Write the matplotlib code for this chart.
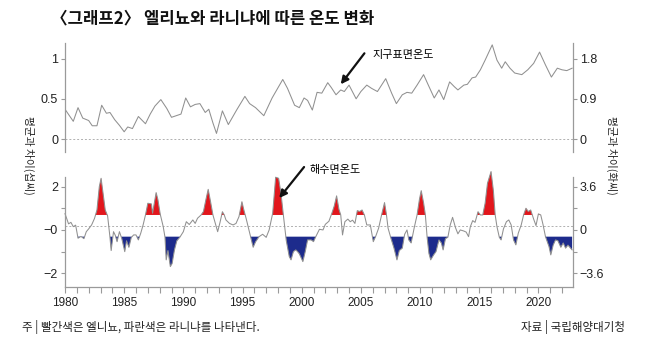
import matplotlib
matplotlib.use("Agg")
import matplotlib.pyplot as plt
import numpy as np

KR = ["Noto Sans CJK KR", "DejaVu Sans"]
NUM = ["Liberation Sans", "DejaVu Sans"]
NARROW = ["Liberation Sans Narrow", "Liberation Sans", "DejaVu Sans"]

# global surface temperature anomaly (deg C)
land_years = [1980.0, 1980.7, 1981.1, 1981.5, 1982.0, 1982.3, 1982.7, 1983.1, 1983.5, 1983.8,
              1984.2, 1984.6, 1985.0, 1985.3, 1985.7, 1986.2, 1986.8, 1987.2, 1987.6, 1988.1,
              1988.6, 1989.0, 1989.4, 1989.8, 1990.2, 1990.6, 1991.0, 1991.4, 1991.85, 1992.15,
              1992.5, 1992.8, 1993.3, 1993.8, 1994.5, 1995.2, 1995.6, 1996.1, 1996.8, 1997.5,
              1998.4, 1998.8, 1999.4, 1999.8, 2000.2, 2000.5, 2000.9, 2001.3, 2001.7, 2002.2,
              2002.5, 2002.9, 2003.3, 2003.6, 2004.0, 2004.6, 2005.0, 2005.5, 2005.9, 2006.4,
              2007.1, 2007.6, 2008.0, 2008.5, 2008.9, 2009.3, 2009.75, 2010.3, 2010.7, 2011.2,
              2011.6, 2012.0, 2012.5, 2012.9, 2013.2, 2013.7, 2014.0, 2014.4, 2014.7, 2015.1,
              2015.5, 2016.1, 2016.5, 2016.9, 2017.2, 2017.6, 2018.0, 2018.6, 2019.1, 2019.6,
              2020.1, 2020.6, 2021.1, 2021.6, 2022.0, 2022.4, 2022.85]
land_temp = [0.37, 0.22, 0.39, 0.26, 0.23, 0.165, 0.165, 0.42, 0.32, 0.33,
             0.24, 0.17, 0.09, 0.15, 0.13, 0.28, 0.19, 0.31, 0.41, 0.49,
             0.38, 0.27, 0.29, 0.31, 0.51, 0.40, 0.43, 0.44, 0.33, 0.37,
             0.20, 0.07, 0.35, 0.18, 0.36, 0.53, 0.44, 0.39, 0.29, 0.51,
             0.74, 0.63, 0.42, 0.39, 0.51, 0.48, 0.36, 0.58, 0.57, 0.70,
             0.64, 0.55, 0.61, 0.59, 0.67, 0.50, 0.59, 0.67, 0.63, 0.59,
             0.75, 0.57, 0.44, 0.55, 0.58, 0.57, 0.67, 0.80, 0.67, 0.51,
             0.61, 0.49, 0.71, 0.65, 0.61, 0.67, 0.68, 0.76, 0.77, 0.86,
             0.98, 1.17, 0.98, 0.88, 0.96, 0.88, 0.82, 0.80, 0.86, 0.94,
             1.08, 0.92, 0.77, 0.88, 0.86, 0.85, 0.88]

# sea surface temperature anomaly (deg C)
sea_years = [1980.0, 1980.3, 1980.5, 1980.7, 1980.9, 1981.1, 1981.35, 1981.6, 1981.8, 1982.0,
             1982.25, 1982.5, 1982.7, 1982.9, 1983.05, 1983.2, 1983.4, 1983.6, 1983.8, 1983.9,
             1984.1, 1984.25, 1984.4, 1984.6, 1984.8, 1985.05, 1985.2, 1985.4, 1985.6, 1985.8,
             1986.0, 1986.2, 1986.4, 1986.6, 1986.8, 1987.0, 1987.3, 1987.4, 1987.7, 1987.85,
             1988.05, 1988.3, 1988.45, 1988.55, 1988.7, 1988.9, 1989.05, 1989.25, 1989.45, 1989.7,
             1990.0, 1990.25, 1990.5, 1990.8, 1991.0, 1991.2, 1991.5, 1991.7, 1991.9, 1992.1,
             1992.3, 1992.5, 1992.7, 1992.9, 1993.1, 1993.3, 1993.45, 1993.6, 1993.9, 1994.2,
             1994.45, 1994.7, 1994.95, 1995.1, 1995.3, 1995.5, 1995.7, 1995.9, 1996.1, 1996.4,
             1996.7, 1997.0, 1997.25, 1997.55, 1997.8, 1998.05, 1998.25, 1998.45, 1998.7, 1998.95,
             1999.1, 1999.3, 1999.5, 1999.65, 1999.8, 2000.1, 2000.3, 2000.5, 2000.8, 2001.0,
             2001.2, 2001.5, 2001.8, 2002.0, 2002.3, 2002.55, 2002.75, 2002.95, 2003.15, 2003.3,
             2003.45, 2003.65, 2003.9, 2004.1, 2004.3, 2004.5, 2004.7, 2004.9, 2005.1, 2005.3,
             2005.5, 2005.8, 2006.05, 2006.25, 2006.5, 2006.75, 2007.0, 2007.15, 2007.3, 2007.55,
             2007.8, 2008.05, 2008.25, 2008.5, 2008.7, 2008.9, 2009.05, 2009.25, 2009.5, 2009.75,
             2009.95, 2010.1, 2010.3, 2010.45, 2010.6, 2010.75, 2010.9, 2011.15, 2011.35, 2011.6,
             2011.8, 2011.95, 2012.15, 2012.35, 2012.55, 2012.75, 2013.0, 2013.2, 2013.4, 2013.7,
             2013.9, 2014.1, 2014.25, 2014.45, 2014.65, 2014.9, 2015.1, 2015.3, 2015.5, 2015.7,
             2016.0, 2016.2, 2016.35, 2016.5, 2016.7, 2016.85, 2017.05, 2017.3, 2017.5, 2017.7,
             2017.9, 2018.1, 2018.3, 2018.55, 2018.75, 2018.95, 2019.15, 2019.35, 2019.6, 2019.8,
             2020.0, 2020.2, 2020.4, 2020.6, 2020.9, 2021.05, 2021.25, 2021.45, 2021.65, 2021.9,
             2022.1, 2022.3, 2022.5, 2022.85]
sea_temp = [0.75, 0.28, 0.35, 0.15, 0.22, -0.38, -0.30, -0.40, -0.08, 0.05,
            0.23, 0.54, 0.92, 2.0, 2.38, 1.77, 0.92, 0.65, -0.34, -0.95,
            -0.08, -0.25, -0.54, -0.08, -0.40, -1.0, -0.5, -0.80, -0.35, -0.23,
            -0.23, -0.46, -0.15, 0.23, 0.69, 1.23, 1.20, 0.77, 1.72, 1.4,
            0.72, 0.15, -0.34, -1.38, -0.95, -1.69, -1.55, -0.92, -0.5, -0.34,
            -0.08, 0.38, 0.25, 0.46, 0.3, 0.54, 0.69, 0.85, 1.38, 1.87,
            1.3, 0.69, 0.3, -0.08, 0.35, 0.84, 0.7, 0.46, 0.3, 0.23,
            0.3, 0.61, 1.30, 0.95, 0.54, 0.1, -0.34, -0.80, -0.55, -0.31,
            -0.2, -0.34, 0.0, 0.77, 2.43, 2.38, 1.69, 0.69, -0.5, -1.23,
            -1.38, -1.0, -0.92, -1.0, -1.1, -1.46, -1.0, -0.46, -0.46, -0.54,
            -0.3, 0.03, 0.0, 0.26, 0.4, 0.77, 1.1, 1.57, 0.95, 0.69,
            -0.23, 0.38, 0.5, 0.38, 0.45, 0.3, 0.89, 0.85, 0.92, 0.69,
            0.23, 0.23, -0.54, -0.3, 0.08, 0.69, 1.26, 0.75, 0.08, -0.4,
            -0.84, -1.38, -0.95, -0.84, -0.2, 0.0, -0.46, -0.6, 0.08, 0.69,
            1.41, 1.81, 1.25, 0.69, -0.34, -1.08, -1.38, -1.15, -1.0, -0.46,
            -0.6, -0.92, -0.4, -0.34, 0.23, 0.58, 0.1, -0.18, 0.0, -0.05,
            -0.1, -0.31, 0.15, 0.43, 0.35, 0.84, 0.69, 0.69, 1.23, 2.15,
            2.69, 1.8, 0.69, 0.15, -0.34, -0.46, 0.05, 0.38, 0.46, 0.23,
            -0.46, -0.69, -0.15, 0.23, 0.69, 1.0, 0.85, 0.92, 0.5, 0.2,
            0.74, 0.69, 0.23, -0.31, -0.77, -1.15, -0.7, -0.46, -0.5, -0.80,
            -0.6, -0.84, -0.7, -0.92]

sea_ref = 0.19
nino_line = sea_ref + 0.5
nina_line = sea_ref - 0.5

year_ticks = list(range(1980, 2023))
year_labels = [str(y) if y % 5 == 0 else "" for y in year_ticks]

GRAY = "#909090"
AXC = "#9a9a9a"
RED = "#e2161c"
BLUE = "#1d2b8c"

fig = plt.figure(figsize=(6.5, 3.43), dpi=100)
x0, w = 65 / 650, (572.7 - 65) / 650
ax_top = fig.add_axes([x0, 1 - 152 / 343, w, 109 / 343])
ax_bot = fig.add_axes([x0, 1 - 287 / 343, w, 110 / 343])

x_lim = (1980, 2022.9)


def style_axes(ax, ylim, ticks, labels, bottom_axis):
    ax.set_xlim(*x_lim)
    ax.set_ylim(*ylim)
    ax.patch.set_alpha(0)
    for side in ["top", "right"]:
        ax.spines[side].set_visible(False)
    ax.spines["left"].set_color(AXC)
    ax.spines["left"].set_linewidth(0.9)
    ax.set_yticks(ticks)
    ax.set_yticklabels(labels, family=NUM, fontsize=9)
    ax.tick_params(axis="y", direction="out", length=3, width=0.8, color=AXC, pad=2, labelcolor="#222")
    if bottom_axis:
        ax.spines["bottom"].set_color(AXC)
        ax.spines["bottom"].set_linewidth(0.9)
        ax.set_xticks(year_ticks)
        ax.set_xticklabels(year_labels, family=NARROW, fontsize=8.5, color="#222")
        ax.tick_params(axis="x", direction="out", length=4, width=0.8, color=AXC, pad=3)
    else:
        ax.spines["bottom"].set_visible(False)
        ax.set_xticks([])


def style_right(ax, ylim, ticks, labels):
    tw = ax.twinx()
    tw.set_ylim(ylim[0] * 1.8, ylim[1] * 1.8)
    for side in ["top", "left", "bottom"]:
        tw.spines[side].set_visible(False)
    tw.spines["right"].set_color(AXC)
    tw.spines["right"].set_linewidth(0.9)
    tw.set_yticks(ticks)
    tw.set_yticklabels(labels, family=NARROW, fontsize=9)
    tw.tick_params(axis="y", direction="out", length=3, width=0.8, color=AXC, pad=2, labelcolor="#222")
    return tw


# upper panel: global surface temperature
top_lim = (-0.161, 1.193)
style_axes(ax_top, top_lim, [0, 0.5, 1], ["0", "0.5", "1"], False)
style_right(ax_top, top_lim, [0, 0.9, 1.8], ["0", "0.9", "1.8"])
ax_top.axhline(0, color="#b0b0b0", lw=0.7, ls=(0, (2, 2)))
ax_top.plot(land_years, land_temp, color=GRAY, lw=0.75)

# lower panel: sea surface temperature with El Nino / La Nina shading
bot_lim = (-2.63, 2.44)
style_axes(ax_bot, bot_lim, [2, 1, 0, -1, -2], ["2", "", "\u22120", "", "\u22122"], True)
style_right(ax_bot, bot_lim, [3.6, 1.8, 0, -1.8, -3.6], ["3.6", "", "0", "", "\u22123.6"])
ax_bot.axhline(sea_ref, color="#b0b0b0", lw=0.7, ls=(0, (2, 2)))
sy = np.array(sea_years)
st = np.array(sea_temp)
ax_bot.fill_between(sy, st, nino_line, where=st > nino_line, interpolate=True,
                    color=RED, lw=0, clip_on=False)
ax_bot.fill_between(sy, st, nina_line, where=st < nina_line, interpolate=True,
                    color=BLUE, lw=0, clip_on=False)
ax_bot.plot(sy, st, color=GRAY, lw=0.75, clip_on=False)

# arrows and labels
arrow = dict(arrowstyle="-|>", color="#111", lw=1.6, mutation_scale=11, shrinkA=0, shrinkB=0)
ax_top.annotate("", xy=(2003.3, 0.68), xytext=(2005.3, 1.065), arrowprops=arrow)
ax_top.text(2005.95, 1.04, "지구표면온도", family=KR, fontsize=8, va="center", ha="left")
ax_bot.annotate("", xy=(1998.1, 1.47), xytext=(2000.2, 2.9), arrowprops=arrow,
                annotation_clip=False)
ax_bot.text(2000.7, 2.76, "해수면온도", family=KR, fontsize=8, va="center", ha="left")

fig.text(51 / 650, 1 - 18 / 343, "〈그래프2〉 엘리뇨와 라니냐에 따른 온도 변화",
         family=KR, fontsize=12, fontweight="bold", va="center", ha="left", color="#111")
fig.text(29 / 650, 1 - 155 / 343, "평균과 차이(섭씨)", family=KR, fontsize=7.7,
         rotation=270, va="center", ha="center", color="#222")
fig.text(612 / 650, 1 - 155 / 343, "평균과 차이(화씨)", family=KR, fontsize=7.7,
         rotation=270, va="center", ha="center", color="#222")
fig.text(22 / 650, 1 - 327 / 343, "주 | 빨간색은 엘니뇨, 파란색은 라니냐를 나타낸다.",
         family=KR, fontsize=8.3, va="center", ha="left", color="#222")
fig.text(625 / 650, 1 - 327 / 343, "자료 | 국립해양대기청",
         family=KR, fontsize=8.3, va="center", ha="right", color="#222")

fig.savefig("out.png", dpi=100)
